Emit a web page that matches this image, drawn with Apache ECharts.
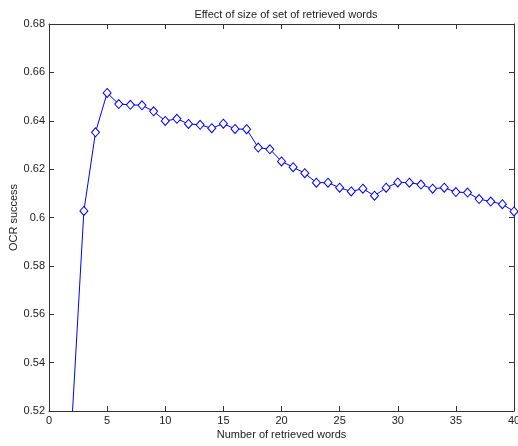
<!DOCTYPE html>
<html>
<head>
<meta charset="utf-8">
<script src="https://cdn.jsdelivr.net/npm/echarts@6/dist/echarts.min.js"></script>
<style>html,body{margin:0;padding:0;background:#fff;}#c{width:518px;height:446px;}</style>
</head>
<body>
<div id="c"></div>
<script>
var titleText = 'Effect of size of set of retrieved words';
var xLabel = 'Number of retrieved words';
var yLabel = 'OCR success';
var wordCounts = [2,3,4,5,6,7,8,9,10,11,12,13,14,15,16,17,18,19,20,21,22,23,24,25,26,27,28,29,30,31,32,33,34,35,36,37,38,39,40];
var ocrSuccess = [0.518,0.6027,0.6352,0.6515,0.6469,0.6466,0.6464,0.6439,0.6399,0.6408,0.6387,0.6383,0.6369,0.6388,0.6366,0.6365,0.6289,0.6282,0.6232,0.6208,0.6183,0.6144,0.6144,0.6123,0.6108,0.6119,0.6090,0.6123,0.6145,0.6144,0.6136,0.6119,0.6123,0.6105,0.6103,0.6076,0.6066,0.6055,0.6025];
var xTicks = {min: 0, max: 40, interval: 5};
var yTicks = {min: 0.52, max: 0.68, interval: 0.02};

var font = '"Liberation Sans", Arial, sans-serif';
var axisColor = '#333';
var points = wordCounts.map(function (x, i) { return [x, ocrSuccess[i]]; });

function xAxisDef(pos, showLabels) {
  return {
    type: 'value', position: pos, min: xTicks.min, max: xTicks.max, interval: xTicks.interval,
    axisLine: {show: true, onZero: false, lineStyle: {color: axisColor, width: 1}},
    axisTick: {show: true, inside: true, length: 5, lineStyle: {color: axisColor}},
    axisLabel: {show: showLabels, color: '#222', fontSize: 11, fontFamily: font, margin: 4},
    splitLine: {show: false},
    name: showLabels ? xLabel : '', nameLocation: 'middle', nameGap: 18, nameMoveOverlap: false,
    nameTextStyle: {color: '#222', fontSize: 11, fontFamily: font}
  };
}
function yAxisDef(pos, showLabels) {
  return {
    type: 'value', position: pos, min: yTicks.min, max: yTicks.max, interval: yTicks.interval,
    axisLine: {show: true, onZero: false, lineStyle: {color: axisColor, width: 1}},
    axisTick: {show: true, inside: true, length: 5, lineStyle: {color: axisColor}},
    axisLabel: {show: showLabels, color: '#222', fontSize: 11, fontFamily: font, margin: 4},
    splitLine: {show: false},
    name: showLabels ? yLabel : '', nameLocation: 'middle', nameGap: 30, nameMoveOverlap: false,
    nameTextStyle: {color: '#222', fontSize: 11, fontFamily: font}
  };
}

var chart = echarts.init(document.getElementById('c'), null, {renderer: 'canvas'});
chart.setOption({
  animation: false,
  backgroundColor: '#fff',
  title: {
    text: titleText, left: 281, top: 4, textAlign: 'center',
    textStyle: {fontSize: 11, fontWeight: 'normal', color: '#222', fontFamily: font}
  },
  grid: {left: 49, right: 4, top: 24, bottom: 35, containLabel: false, outerBoundsMode: 'none'},
  xAxis: [xAxisDef('bottom', true), xAxisDef('top', false)],
  yAxis: [yAxisDef('left', true), yAxisDef('right', false)],
  series: [{
    type: 'line', xAxisIndex: 0, yAxisIndex: 0, data: points, clip: true,
    symbol: 'diamond', symbolSize: [8, 9], showAllSymbol: true,
    lineStyle: {color: '#0000ff', width: 1},
    itemStyle: {color: '#fff', borderColor: '#0000ff', borderWidth: 1}
  }]
});
</script>
</body>
</html>
